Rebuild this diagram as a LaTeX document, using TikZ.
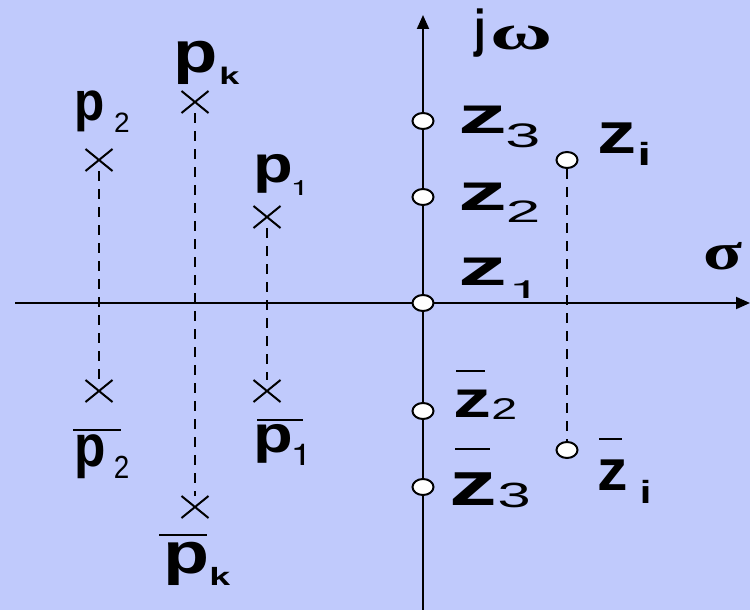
\documentclass[tikz,border=0pt]{standalone}
\usepackage{fontspec}
\setmainfont{Liberation Sans}
\newfontfamily\grk{Liberation Serif}
\newfontfamily\heros{TeX Gyre Heros}
\usetikzlibrary{shapes.geometric,shapes.misc,arrows.meta}
\definecolor{bgc}{RGB}{192,202,252}
\newcommand\gl[3]{\scalebox{#1}[1]{\fontsize{#2}{#2}\selectfont #3}}
\newcommand\subx[3]{\hspace{#1pt}\raisebox{-#2pt}{#3}}
\tikzset{
  axis/.style={line width=2pt,-{Triangle[length=14pt,width=12pt]}},
  zero/.style={ellipse,draw,fill=white,line width=2pt,minimum width=21pt,minimum height=16pt,inner sep=0pt},
  pole/.style={cross out,draw,line width=2pt,minimum width=25pt,minimum height=20pt,inner sep=0pt},
  dashline/.style={line width=2.4pt,dash pattern=on 10pt off 8pt},
  lbl/.style={anchor=base west,inner sep=0pt,outer sep=0pt},
  bar/.style={line width=2pt}
}
\begin{document}
\begin{tikzpicture}[x=1pt,y=-1pt]
\fill[bgc] (0,0) rectangle (750,610);
\useasboundingbox (0,0) rectangle (750,610);
% axes
\coordinate (xl) at (15,303);
\coordinate (xr) at (750,303);
\coordinate (yb) at (423,610);
\coordinate (yt) at (423,15);
\draw[axis] (xl) -- (xr);
\draw[axis] (yb) -- (yt);
% poles
\node[pole] (p2) at (99,160) {};
\node[pole] (p2b) at (99,391) {};
\node[pole] (pk) at (195,102) {};
\node[pole] (pkb) at (195,507) {};
\node[pole] (p1) at (267,217) {};
\node[pole] (p1b) at (267,391) {};
\draw[dashline] (p2) -- (p2b);
\draw[dashline] (pk) -- (pkb);
\draw[dashline] (p1) -- (p1b);
% zeros
\node[zero] (zi) at (567,160) {};
\node[zero] (zib) at (567,450) {};
\draw[dashline] (zi) -- (zib);
\node[zero] (z1) at (423,303) {};
\node[zero] (z2) at (423,197) {};
\node[zero] (z3) at (423,121) {};
\node[zero] (z2b) at (423,411) {};
\node[zero] (z3b) at (423,487) {};
% axis labels
\node[lbl] (jw) at (474,47) {\gl{0.8}{52}{\bfseries j}\subx{5.4}{3}{\gl{1.7}{50}{\grk\bfseries ω}}};
\node[lbl] (sl) at (703,269) {\gl{1.38}{52}{\grk\bfseries σ}};
% zero labels
\node[lbl] (z3l) at (458,133) {\gl{1.88}{52}{\bfseries z}\subx{-1.4}{14}{\gl{1.85}{34}{3}}};
\node[lbl] (z2l) at (458,210) {\gl{1.88}{52}{\bfseries z}\subx{-0.9}{12}{\gl{2.0}{31}{2}}};
\node[lbl] (z1l) at (458,285) {\gl{1.88}{52}{\bfseries z}\subx{1.8}{13}{\gl{2.3}{25}{\heros 1}}};
\node[lbl] (z2bl) at (453.5,417) {\gl{1.46}{52}{\bfseries z}\subx{0}{2}{\gl{1.55}{30}{2}}};
\draw[bar] (456,371) -- (485,371);
\node[lbl] (z3bl) at (449,505) {\gl{1.54}{62}{\bfseries z}\subx{0.9}{2}{\gl{1.7}{35}{3}}};
\draw[bar] (455,449) -- (490,449);
\node[lbl] (zil) at (597.5,153) {\gl{1.35}{58}{\bfseries z}\subx{0.9}{13}{\gl{1.5}{32}{\bfseries i}}};
\node[lbl] (zibl) at (597,490) {\gl{1.05}{58}{\bfseries z}\subx{12.5}{13}{\gl{1.3}{32}{\bfseries i}}};
\draw[bar] (599,439) -- (622,439);
% pole labels
\node[lbl] (pkl) at (173,73) {\gl{1.25}{58}{\bfseries p}\subx{2.2}{12}{\gl{1.5}{24}{\bfseries k}}};
\node[lbl] (p2l) at (74,120.5) {\gl{0.9}{55}{\bfseries p}\subx{9.8}{12.5}{\gl{1.0}{28}{2}}};
\node[lbl] (p1l) at (253,182) {\gl{1.25}{52}{\bfseries p}\subx{-2}{13}{\gl{1.6}{21}{\heros 1}}};
\node[lbl] (p2bl) at (74,466) {\gl{0.87}{59}{\bfseries p}\subx{8.6}{12}{\gl{0.87}{32}{2}}};
\draw[bar] (73,430) -- (121,430);
\node[lbl] (p1bl) at (253,452) {\gl{1.25}{52}{\bfseries p}\subx{-2}{13}{\gl{1.3}{30}{\heros 1}}};
\draw[bar] (257,420) -- (303,420);
\node[lbl] (pkbl) at (163,573) {\gl{1.3}{58}{\bfseries p}\subx{0.3}{12}{\gl{1.5}{25}{\bfseries k}}};
\draw[bar] (159,535) -- (207,535);
\end{tikzpicture}
\end{document}
